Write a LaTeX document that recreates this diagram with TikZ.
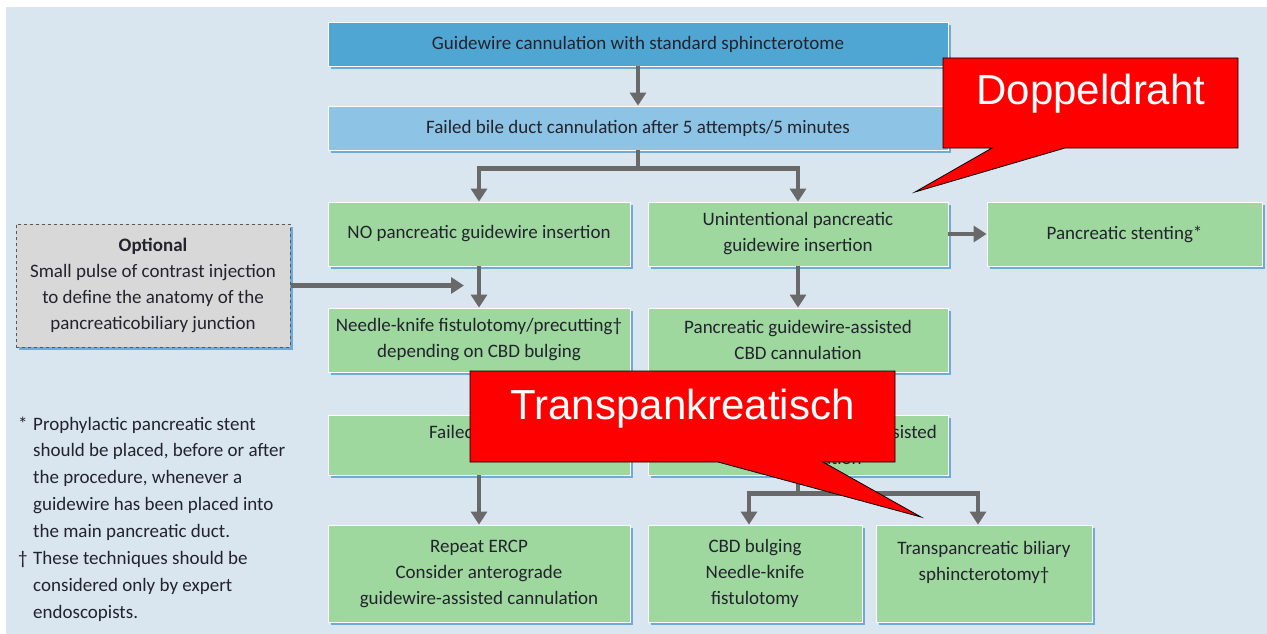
\documentclass[tikz,border=0pt]{standalone}
\usepackage{fontspec}
\setmainfont{Carlito}
\newfontfamily\calloutfont{Liberation Sans}
\usetikzlibrary{arrows.meta,shadows}

\definecolor{bgblue}{RGB}{217,230,240}
\definecolor{topblue}{RGB}{79,166,211}
\definecolor{midblue}{RGB}{141,195,228}
\definecolor{boxgreen}{RGB}{158,216,158}
\definecolor{optgray}{RGB}{216,216,216}
\definecolor{shadowblue}{RGB}{112,170,216}
\definecolor{arrowgray}{RGB}{105,105,105}
\definecolor{txt}{RGB}{35,35,45}

\begin{document}
\begin{tikzpicture}[x=1pt,y=-1pt,
  font=\fontsize{19}{26}\selectfont,
  box/.style={draw=white, line width=0.8pt, align=center, text=txt, inner sep=2pt,
    general shadow={fill=shadowblue, shadow xshift=3pt, shadow yshift=-3pt}},
  greenbox/.style={box, fill=boxgreen},
  arr/.style={draw=arrowgray, line width=4.5pt, -{Triangle[width=16pt,length=13pt]}},
  callout/.style={fill=red, draw=black, line width=0.8pt, line join=miter},
  callouttext/.style={text=white, font=\calloutfont\fontsize{42}{50}\selectfont, inner sep=0pt}
]
\useasboundingbox (0,0) rectangle (1267,634);
\fill[bgblue] (6,7) rectangle (1267,634);

% main column
\node[box, fill=topblue, minimum width=620, minimum height=44] (start) at (638,44)
  {Guidewire cannulation with standard sphincterotome};
\node[box, fill=midblue, minimum width=620, minimum height=44] (failed) at (638,128)
  {Failed bile duct cannulation after 5 attempts/5 minutes};

% third row
\node[greenbox, minimum width=302, minimum height=64] (nopan) at (479,234)
  {NO pancreatic guidewire insertion};
\node[greenbox, minimum width=300, minimum height=64] (unint) at (798,234)
  {Unintentional pancreatic\\guidewire insertion};
\node[greenbox, minimum width=275, minimum height=64] (stent) at (1124.5,234)
  {Pancreatic stenting*};

% optional step
\node[box, fill=optgray, draw=black!65, dashed, line width=1pt, minimum width=274, minimum height=123]
  (optional) at (153,285.5)
  {\textbf{Optional}\\Small pulse of contrast injection\\to define the anatomy of the\\pancreaticobiliary junction};
\coordinate (optin) at (464,285.5);

% fourth row
\node[greenbox, minimum width=302, minimum height=64] (needle) at (479,340)
  {Needle-knife fistulotomy/precutting\dag\\depending on CBD bulging};
\node[greenbox, minimum width=300, minimum height=64] (pgw) at (798,340)
  {Pancreatic guidewire-assisted\\CBD cannulation};

% fifth row
\node[greenbox, minimum width=302, minimum height=60] (failL) at (479,445)
  {Failed precut\\\mbox{}};
\node[greenbox, minimum width=300, minimum height=60] (failR) at (798,445)
  {Failed pancreatic guidewire-assisted\\CBD cannulation};

% last row
\node[greenbox, minimum width=302, minimum height=97] (repeat) at (479,573.5)
  {Repeat ERCP\\Consider anterograde\\guidewire-assisted cannulation};
\node[greenbox, minimum width=214, minimum height=97] (cbd) at (755,573.5)
  {CBD bulging\\Needle-knife\\fistulotomy};
\node[greenbox, minimum width=216, minimum height=97] (trans) at (984,573.5)
  {Transpancreatic biliary\\sphincterotomy\dag\\\mbox{}};

% footnotes
\node[anchor=base west, inner sep=0pt, text=txt] (notes) at (18,430)
  {\renewcommand{\arraystretch}{1.035}\begin{tabular}[t]{@{}p{15pt}@{}l@{}}
   * & Prophylactic pancreatic stent\\
     & should be placed, before or after\\
     & the procedure, whenever a\\
     & guidewire has been placed into\\
     & the main pancreatic duct.\\
   \dag & These techniques should be\\
     & considered only by expert\\
     & endoscopists.
  \end{tabular}};

% connectors
\draw[arr] (start.south) -- (failed.north);
\draw[arr] (failed.south) -- ++(0,18) -| (nopan.north);
\draw[arr] (failed.south) -- ++(0,18) -| (unint.north);
\draw[arr] (unint.east) -- (stent.west);
\draw[arr] (nopan.south) -- (needle.north);
\draw[arr] (optional.east) -- (optin);
\draw[arr] (unint.south) -- (pgw.north);
\draw[arr] (needle.south) -- (failL.north);
\draw[arr] (pgw.south) -- (failR.north);
\draw[arr] (failL.south) -- (repeat.north);
\draw[arr] (failR.south) -- ++(0,18) -| ([xshift=-6pt]cbd.north);
\draw[arr] (failR.south) -- ++(0,18) -| ([xshift=-6pt]trans.north);

% speech-bubble annotations
\path[callout] (943,58) -- (1238,58) -- (1238,148) -- (1065,148) -- (915,192)
  -- (992,148) -- (943,148) -- cycle;
\node[callouttext, anchor=base] (dd) at (1091,105) {Doppeldraht};
\path[callout] (470,371) -- (895,371) -- (895,462) -- (823,462) -- (921,517)
  -- (718,462) -- (470,462) -- cycle;
\node[callouttext, anchor=base] (tp) at (682.5,419) {Transpankreatisch};
\end{tikzpicture}
\end{document}
